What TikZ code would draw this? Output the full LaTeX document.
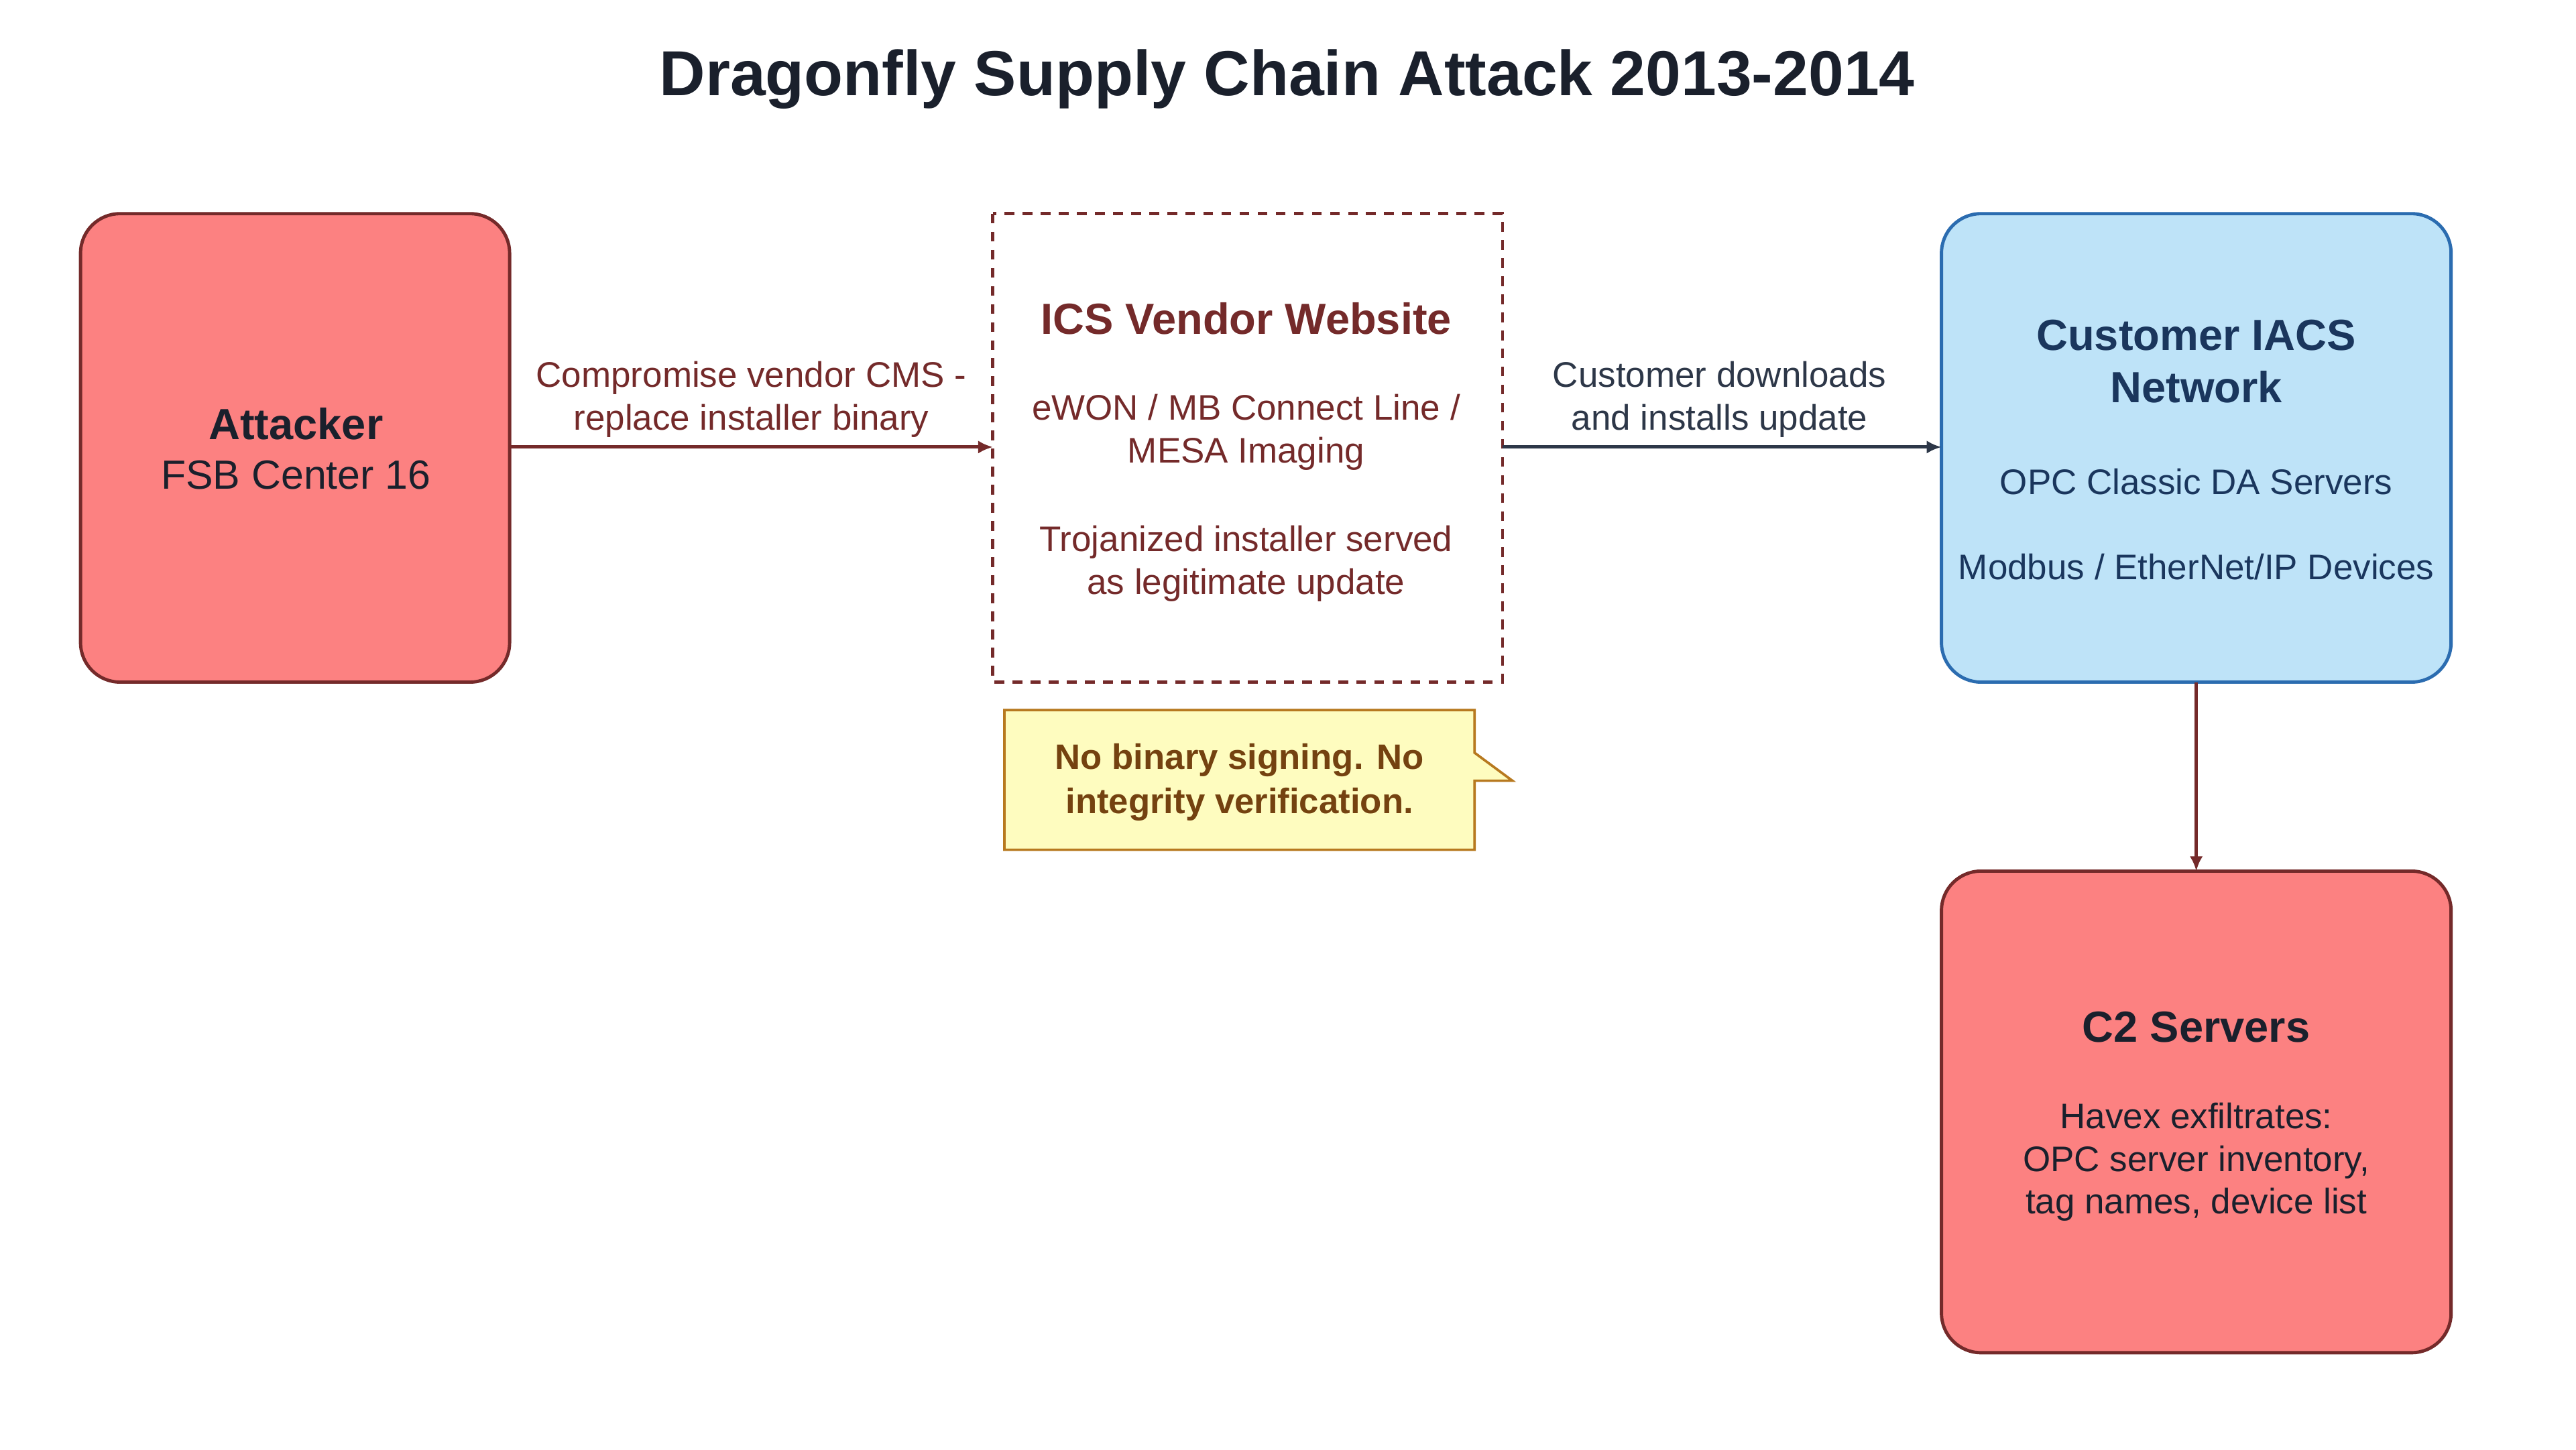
\documentclass[tikz,border=0pt]{standalone}
\usepackage{fontspec}
\setmainfont{Liberation Sans}
\usetikzlibrary{arrows.meta}
\definecolor{dred}{HTML}{742A2A}
\definecolor{salmon}{HTML}{FC8181}
\definecolor{navy}{HTML}{2D3748}
\definecolor{dnavy}{HTML}{1A365D}
\definecolor{lblue}{HTML}{BEE3F8}
\definecolor{bblue}{HTML}{2B6CB0}
\definecolor{nfill}{HTML}{FEFCBF}
\definecolor{nbord}{HTML}{B7791F}
\definecolor{ntext}{HTML}{744210}
\definecolor{ttl}{HTML}{1A202C}
\begin{document}
\begin{tikzpicture}[x=1pt,y=-1pt,
 box/.style={rounded corners=24pt,line width=2pt},
 txt/.style={font=\fontsize{21.6}{26}\selectfont,align=center},
 btxt/.style={font=\fontsize{26.5}{32}\selectfont\bfseries,align=center},
 arr/.style={line width=2pt,-{Latex[length=9pt,width=8pt]}}]
\useasboundingbox[fill=white] (0,0) rectangle (1567,882);
\node[font=\fontsize{38.7}{46}\selectfont\bfseries,text=ttl] (title) at (783,48) {Dragonfly Supply Chain Attack 2013-2014};
% boxes
\draw[box,fill=salmon,draw=dred] (49,130) rectangle (310,415);
\node[inner sep=0] (att) at (179.5,272.5) {};
\draw[line width=2pt,dashed,dash pattern=on 6pt off 5pt,draw=dred,fill=white] (604,130) rectangle (914,415);
\node[inner sep=0] (ven) at (759,272.5) {};
\draw[box,fill=lblue,draw=bblue] (1181,130) rectangle (1491,415);
\node[inner sep=0] (cus) at (1336,272.5) {};
\draw[box,fill=salmon,draw=dred] (1181,530) rectangle (1491,823);
\node[inner sep=0] (c2) at (1336,676.5) {};
% arrows
\draw[arr,dred] (310,272) coordinate (a1) -- (604,272) coordinate (a2);
\draw[arr,navy] (914,272) coordinate (b1) -- (1181,272) coordinate (b2);
\draw[arr,dred] (1336,415) coordinate (c1) -- (1336,530) coordinate (c2t);
\node[txt,text=dred] (l1) at (457,243) {Compromise vendor CMS -\\replace installer binary};
\node[txt,text=navy] (l2) at (1046,243) {Customer downloads\\and installs update};
% texts
\node[btxt,text=ttl] (t1) at (180,258) {Attacker};
\node[font=\fontsize{24.8}{30}\selectfont,text=ttl] (t2) at (180,289) {FSB Center 16};
\node[btxt,text=dred] (t3) at (758,194) {ICS Vendor Website};
\node[txt,text=dred] (t4) at (758,263) {eWON / MB Connect Line /\\MESA Imaging};
\node[txt,text=dred] (t5) at (758,343) {Trojanized installer served\\as legitimate update};
\node[btxt,text=dnavy] (t6) at (1336,220) {Customer IACS\\Network};
\node[txt,text=dnavy] (t7) at (1336,293) {OPC Classic DA Servers};
\node[txt,text=dnavy] (t8) at (1336,345) {Modbus / EtherNet/IP Devices};
\node[btxt,text=ttl] (t9) at (1336,625) {C2 Servers};
\node[txt,text=ttl] (t10) at (1336,707) {Havex exfiltrates:\\OPC server inventory,\\tag names, device list};
% note
\draw[line width=1.5pt,draw=nbord,fill=nfill] (611,432) -- (897,432) -- (897,458) -- (920,475) -- (897,475) -- (897,517) -- (611,517) -- cycle;
\node[txt,font=\fontsize{21.5}{27}\selectfont\bfseries,text=ntext] (note) at (754,476) {No binary signing. No\\integrity verification.};
\end{tikzpicture}
\end{document}
